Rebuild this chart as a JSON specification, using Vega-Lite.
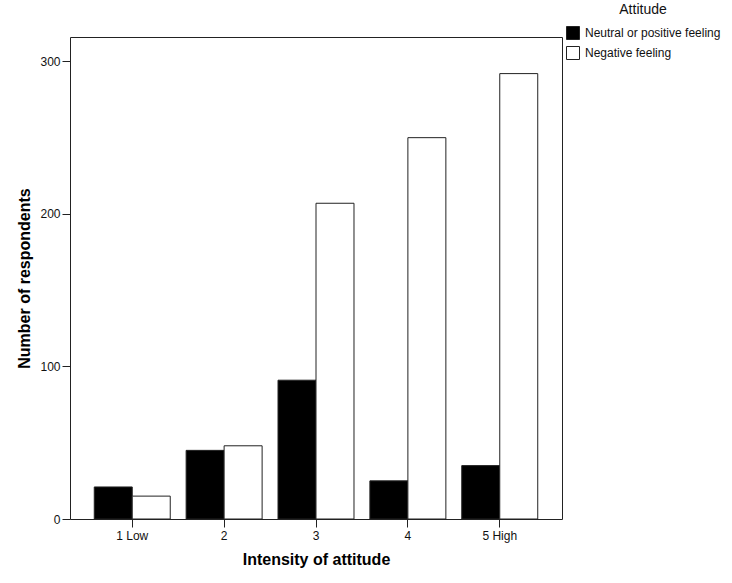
{
  "$schema": "https://vega.github.io/schema/vega-lite/v6.json",
  "width": 492,
  "height": 482,
  "autosize": "none",
  "padding": {"left": 70, "top": 37, "right": 170, "bottom": 64},
  "background": "white",
  "data": {
    "values": [
      {"intensity": "1 Low", "attitude": "Neutral or positive feeling", "count": 21},
      {"intensity": "1 Low", "attitude": "Negative feeling", "count": 15},
      {"intensity": "2", "attitude": "Neutral or positive feeling", "count": 45},
      {"intensity": "2", "attitude": "Negative feeling", "count": 48},
      {"intensity": "3", "attitude": "Neutral or positive feeling", "count": 91},
      {"intensity": "3", "attitude": "Negative feeling", "count": 207},
      {"intensity": "4", "attitude": "Neutral or positive feeling", "count": 25},
      {"intensity": "4", "attitude": "Negative feeling", "count": 250},
      {"intensity": "5 High", "attitude": "Neutral or positive feeling", "count": 35},
      {"intensity": "5 High", "attitude": "Negative feeling", "count": 292}
    ]
  },
  "mark": {"type": "bar", "stroke": "#222", "strokeWidth": 1},
  "encoding": {
    "x": {
      "field": "intensity",
      "type": "nominal",
      "sort": ["1 Low", "2", "3", "4", "5 High"],
      "scale": {"paddingInner": 0.173, "paddingOuter": 0.264},
      "axis": {
        "title": "Intensity of attitude",
        "labelAngle": 0,
        "domain": false,
        "tickColor": "#222",
        "tickSize": 8,
        "labelPadding": 3,
        "titlePadding": 10
      }
    },
    "xOffset": {
      "field": "attitude",
      "type": "nominal",
      "sort": ["Neutral or positive feeling", "Negative feeling"],
      "scale": {"paddingInner": 0, "paddingOuter": 0}
    },
    "y": {
      "field": "count",
      "type": "quantitative",
      "scale": {"domain": [0, 316], "nice": false},
      "axis": {
        "title": "Number of respondents",
        "values": [0, 100, 200, 300],
        "grid": false,
        "domain": false,
        "tickColor": "#222",
        "tickSize": 8,
        "labelPadding": 2,
        "titlePadding": 7
      }
    },
    "fill": {
      "field": "attitude",
      "type": "nominal",
      "sort": ["Neutral or positive feeling", "Negative feeling"],
      "scale": {
        "domain": ["Neutral or positive feeling", "Negative feeling"],
        "range": ["#000000", "#ffffff"]
      },
      "legend": {
        "title": "Attitude",
        "orient": "none",
        "legendX": 496,
        "legendY": -34,
        "symbolType": "square",
        "symbolSize": 169,
        "symbolStrokeColor": "#222",
        "symbolStrokeWidth": 1,
        "titleFontWeight": "normal",
        "titleFontSize": 14,
        "titleAnchor": "middle",
        "titlePadding": 9,
        "labelFontSize": 12,
        "labelOffset": 5,
        "rowPadding": 2
      }
    }
  },
  "config": {
    "font": "Liberation Sans",
    "view": {"stroke": "#222", "strokeWidth": 1},
    "axis": {
      "labelFontSize": 12,
      "labelColor": "#111",
      "titleFontSize": 16,
      "titleFontWeight": "bold",
      "titleColor": "#000",
      "ticks": true
    },
    "legend": {"labelColor": "#111", "titleColor": "#111"}
  }
}
